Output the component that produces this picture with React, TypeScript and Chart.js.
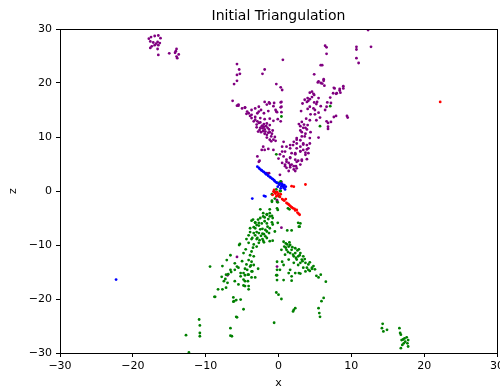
import React, { useEffect, useRef } from "react";
import { Chart, registerables } from "chart.js";

Chart.register(...registerables);

const titleText = "Initial Triangulation";
const xLabel = "x";
const zLabel = "z";
const xTicks = [-30, -20, -10, 0, 10, 20, 30];
const zTicks = [-30, -20, -10, 0, 10, 20, 30];

const purplePoints: number[][] = [
  [-17.5, 28.5], [-17.0, 28.7], [-16.5, 28.8], [-17.8, 28.2], [-16.2, 28.3], [-17.6, 27.7], [-17.2, 27.5], [-16.8, 27.3],
  [-16.6, 27.6], [-16.3, 27.4], [-17.4, 26.8], [-17.6, 26.5], [-17.0, 27.0], [-16.5, 27.0], [-16.6, 26.3], [-16.5, 25.2],
  [-15.0, 25.5], [-14.1, 25.9], [-14.0, 26.3], [-13.7, 25.3], [-14.0, 24.9], [-13.9, 24.6], [-14.2, 25.6],
  [-5.7, 23.5], [-5.4, 22.5], [-1.9, 22.5], [-2.2, 21.7], [0.6, 24.3], [5.8, 23.3], [6.0, 23.3], [6.4, 26.9], [6.6, 26.6],
  [6.6, 25.4], [10.7, 26.7], [10.7, 26.2], [10.7, 24.6], [11.0, 23.7], [12.3, 29.8], [12.7, 26.7],
  [-5.7, 21.5], [-5.3, 21.7], [-6.1, 19.8], [-5.7, 20.4], [-0.3, 19.8], [0.3, 19.2], [0.5, 18.7],
  [-6.3, 16.7], [-5.7, 15.8], [-5.5, 15.8], [-4.6, 15.4], [-5.0, 15.3], [-5.5, 16.0], [-4.6, 15.5], [-4.1, 14.4],
  [-3.7, 14.1], [-3.2, 13.2], [-2.7, 12.6], [-2.3, 12.0], [-1.9, 11.4], [-1.4, 10.8], [-1.0, 10.1], [-0.7, 9.5],
  [-1.2, 9.5], [-1.6, 10.4], [-2.1, 11.1], [-2.5, 11.7], [-3.0, 12.3], [-3.4, 12.9],
  [-1.3, 16.4], [-0.6, 16.3], [0.4, 16.5], [0.4, 15.6], [-0.3, 14.7], [0.3, 12.9], [-2.7, 14.7],
  [-4.3, 14.7], [-3.7, 15.0], [-3.2, 15.3], [-2.7, 15.6], [-2.4, 15.0], [-1.9, 16.5], [-1.6, 16.0], [-1.2, 16.2],
  [-0.7, 15.7], [-0.4, 15.0], [0.3, 16.4], [0.3, 15.5], [0.4, 14.6], [-0.2, 14.6], [-1.4, 14.8], [-2.0, 14.4],
  [-2.9, 14.4], [-3.9, 13.9], [-4.4, 14.3], [-3.7, 13.5], [-3.2, 13.7], [-2.5, 13.5], [-1.9, 13.3], [-1.2, 13.4],
  [-0.7, 13.0], [-0.1, 13.3], [-2.9, 12.9], [-2.5, 12.7], [-2.0, 12.4], [-1.6, 12.5], [-1.2, 12.2], [-2.2, 12.1],
  [-3.0, 11.8], [-2.6, 11.3], [-2.2, 11.6], [-1.8, 11.0], [-1.5, 11.7], [-2.4, 10.9], [-1.9, 10.6], [-1.2, 10.9],
  [-1.6, 9.9], [-0.9, 10.6], [-0.5, 10.0], [-1.0, 9.2], [-0.4, 9.3], [-2.8, 11.0], [-1.3, 11.4], [-2.0, 11.9],
  [-0.8, 11.2], [-1.7, 12.0],
  [4.9, 21.6], [6.2, 20.7], [5.4, 20.1], [5.8, 20.0], [6.3, 19.5], [7.7, 19.0], [8.9, 19.4], [8.4, 18.9], [7.5, 18.1],
  [8.0, 18.1], [8.5, 18.2], [7.1, 17.3], [6.7, 16.4], [7.2, 16.3], [5.5, 17.2], [4.3, 18.2], [4.9, 17.8], [4.6, 17.4],
  [4.0, 17.2], [3.6, 16.9], [3.3, 16.2], [4.1, 16.7], [4.9, 16.4], [5.3, 16.5], [4.3, 15.6], [4.8, 15.3], [4.0, 15.2],
  [5.8, 15.7], [6.6, 15.6], [6.4, 15.0], [5.5, 14.5], [5.0, 14.2], [4.4, 14.2], [3.1, 14.8], [7.9, 13.9], [9.4, 13.9],
  [3.8, 13.4], [4.3, 13.1], [5.2, 13.1], [5.7, 13.6], [6.6, 12.9], [6.8, 12.6], [3.2, 12.8], [2.8, 12.4], [3.5, 12.3],
  [4.0, 12.2], [3.0, 12.0], [3.7, 11.7],
  [7.6, 19.1], [8.4, 18.6], [8.9, 19.0], [7.9, 18.0], [6.2, 20.4], [5.5, 20.3], [6.0, 19.9], [3.9, 16.5], [4.6, 18.4],
  [4.8, 18.0], [4.3, 17.0], [5.2, 16.1], [5.0, 15.0], [7.6, 13.7], [7.2, 12.8], [6.8, 11.9], [9.5, 13.6],
  [3.6, 10.1], [4.3, 9.8], [3.2, 10.1], [2.5, 9.8], [5.5, 9.9], [4.4, 10.9], [3.2, 10.9], [3.9, 11.4], [3.4, 11.7],
  [6.8, 11.5], [3.0, 11.2], [3.7, 10.6],
  [-2.3, 7.6], [-1.9, 7.6], [-1.4, 7.8], [-0.7, 7.6], [-2.1, 8.2], [-2.9, 6.4], [-2.6, 5.6], [-2.7, 5.4], [0.5, 8.2],
  [0.5, 7.3], [0.9, 7.3], [1.6, 7.9], [2.0, 8.5], [2.5, 8.8], [3.0, 9.4], [3.4, 8.8], [3.9, 8.5], [3.0, 8.2], [2.5, 7.9],
  [1.8, 7.0], [2.3, 7.0], [3.0, 7.3], [3.4, 7.6], [4.1, 7.9], [4.3, 8.8], [1.6, 6.1], [1.1, 5.8], [0.7, 6.4], [0.5, 5.2],
  [0.9, 4.9], [1.4, 5.2], [1.8, 4.9], [2.3, 5.8], [2.7, 5.6], [3.2, 5.8], [3.0, 4.9], [2.4, 4.6], [1.6, 4.4], [2.1, 4.0],
  [2.5, 4.2], [1.1, 4.3], [3.7, 6.7], [4.1, 7.0],
  [0.7, 9.1], [1.1, 8.2], [1.6, 8.5], [2.1, 9.1], [2.5, 9.5], [3.4, 8.6], [3.9, 7.7], [3.7, 7.1], [3.0, 7.4], [2.3, 6.8],
  [1.6, 6.2], [1.1, 5.4], [1.6, 4.8], [2.1, 4.6], [2.5, 5.4], [3.2, 5.6], [3.9, 5.9], [0.9, 4.6], [1.4, 3.7], [2.3, 3.7],
  [0.2, 6.8], [0.0, 6.0], [-1.3, 3.3], [-1.6, 3.3],
  [0.4, 1.7], [0.7, 0.8], [0.2, 3.0], [-0.2, -1.7], [0.1, 1.2],
  [0.4, -6.8], [-5.7, -12.2], [-7.0, -15.6], [-0.2, -14.0],
];

const greenPoints: number[][] = [
  [7.1, 15.7], [5.7, 12.0], [0.4, 13.8], [-0.3, 6.8],
  [0.0, 1.5], [-0.5, -0.2], [0.3, 0.0], [-0.3, 0.3], [0.1, -1.0], [-0.2, -2.0], [-0.9, -1.8], [1.3, -3.2], [0.3, 1.8],
  [-0.9, -0.6], [-0.5, -1.4], [0.2, 0.0], [-0.9, -2.0], [-0.1, -2.1], [1.5, -3.4],
  [-0.2, -3.2], [-1.6, -4.4], [-2.1, -4.7], [-1.2, -4.7], [-0.8, -5.0], [-2.5, -5.0], [-3.7, -5.5], [-3.2, -5.9],
  [-2.7, -5.9], [-2.3, -6.0], [-1.6, -6.0], [-0.8, -6.2], [-0.1, -5.9], [2.7, -5.9], [2.8, -6.6], [-3.9, -6.9],
  [-3.2, -6.9], [-2.5, -7.1], [-1.8, -7.2], [-1.2, -6.9], [-3.4, -7.8], [-2.7, -7.8], [-2.0, -8.0], [-1.3, -7.8],
  [-0.5, -7.5], [-4.1, -8.2], [-3.6, -8.7], [-2.9, -8.7], [-2.2, -8.9], [-1.6, -8.7], [-2.7, -9.6], [-2.0, -9.5],
  [-3.4, -9.9], [-4.1, -9.6], [-1.2, -9.3], [-5.4, -10.0],
  [-2.5, -3.4], [-2.1, -4.1], [-1.6, -4.3], [-1.2, -4.1], [-1.9, -4.9], [-1.4, -5.2], [-0.9, -4.6], [-0.1, -3.5],
  [-0.9, -5.8], [-3.2, -5.8], [-3.5, -5.3], [-3.4, -6.7], [-2.7, -6.4], [-2.2, -7.0], [-3.0, -7.6], [-2.2, -7.9],
  [-1.6, -7.5], [-3.9, -7.6], [-4.4, -8.9], [-3.7, -8.9], [-3.0, -8.9], [-5.3, -9.8], [-2.1, -9.2], [-0.8, -9.2],
  [1.2, -7.3], [1.8, -7.3], [3.0, -6.0], [2.9, -6.6], [-1.2, -3.4],
  [-2.8, -5.3], [-1.9, -5.6], [-3.0, -6.3], [-1.5, -6.6], [-2.4, -8.3], [-3.2, -8.2], [-1.8, -8.4], [-2.6, -9.1],
  [-3.5, -10.5], [-4.5, -10.8], [-3.0, -10.3], [-4.8, -11.5], [-5.0, -13.0], [-4.4, -13.6], [-5.5, -14.2], [-6.5, -15.0],
  [-3.7, -11.2], [-3.9, -11.9], [-3.4, -12.1], [-4.1, -12.8], [-3.7, -13.1], [-3.4, -13.7], [-3.9, -14.0],
  [-4.3, -14.6], [-3.7, -14.9], [-4.8, -15.2], [-4.1, -15.5], [-5.2, -15.8], [-6.0, -13.4], [-6.6, -11.9],
  [-7.1, -12.8], [-7.3, -16.3], [-7.8, -15.9], [-7.5, -16.7], [-8.3, -18.2], [-7.7, -18.2], [-8.8, -19.6],
  [-6.0, -16.7], [-5.5, -17.3], [-4.8, -16.4], [-4.1, -18.2], [-4.8, -17.5], [-6.2, -19.7], [-5.8, -20.2],
  [-5.2, -20.1], [-6.2, -20.5], [-4.8, -21.9], [-5.8, -23.3], [-5.7, -23.4], [-6.6, -25.4], [-6.6, -26.8],
  [-6.4, -26.9], [-9.4, -14.0], [-7.7, -13.9], [-6.6, -14.6], [-10.9, -23.8], [-10.8, -24.9], [-10.8, -26.3],
  [-10.8, -26.9], [-12.7, -26.7], [-12.3, -29.9],
  [-8.7, -19.6], [-7.2, -17.9], [-7.0, -17.0], [-6.1, -20.4],
  [-6.0, -14.6], [-5.7, -14.0], [-7.2, -15.5], [-6.9, -15.4], [-5.2, -15.2], [-4.6, -15.6], [-4.2, -15.5],
  [-3.7, -16.0], [-3.2, -16.0], [-4.6, -16.7], [-4.2, -16.7], [-4.6, -17.6], [-4.1, -17.6], [-4.6, -14.4],
  [-3.6, -14.9], [-2.8, -14.4], [-3.8, -13.8],
  [-0.6, -24.4], [-0.3, -18.8], [0.0, -19.2], [0.4, -20.0], [-0.2, -13.1], [-0.2, -14.6], [-0.2, -15.6],
  [-0.2, -16.5], [0.5, -13.1], [2.3, -21.7], [2.1, -22.0], [2.0, -22.3], [5.5, -21.7], [5.6, -22.6], [5.7, -23.3],
  [5.9, -20.4], [6.2, -19.8], [6.5, -16.8],
  [0.7, -9.4], [1.0, -9.7], [0.8, -10.3], [1.4, -10.3], [1.1, -10.9], [1.8, -10.9], [1.6, -11.5], [2.3, -11.5],
  [2.1, -12.1], [2.7, -12.1], [2.5, -12.7], [3.2, -12.7], [3.0, -13.3], [3.7, -13.3], [4.1, -13.6], [3.9, -14.2],
  [4.6, -14.2], [5.0, -14.5], [4.3, -14.8], [3.4, -14.2], [2.7, -13.7], [2.1, -13.3], [1.4, -12.7], [0.9, -11.8],
  [0.4, -10.9], [1.6, -10.0], [2.3, -10.6], [3.0, -11.5], [3.4, -12.1], [0.7, -13.7], [1.6, -14.6], [1.8, -15.8],
  [2.3, -15.2], [3.0, -15.3], [3.7, -14.9], [5.2, -15.7], [5.8, -15.5],
  [0.7, -16.5], [1.4, -15.2], [1.8, -16.6], [2.8, -15.2], [4.1, -14.6], [4.6, -14.4], [5.5, -16.0], [-0.3, -15.6],
  [0.2, -14.6],
  [1.2, -9.9], [1.9, -10.4], [2.6, -11.0], [2.9, -11.9], [3.6, -12.6], [4.3, -13.2], [1.3, -11.3], [2.0, -11.8],
  [2.4, -12.4], [1.0, -10.5], [1.5, -9.5], [2.8, -10.8], [3.3, -13.0], [4.8, -13.9],
  [14.3, -24.6], [14.2, -25.4], [14.4, -26.0], [14.9, -25.7], [16.6, -25.4], [16.7, -26.3], [16.8, -26.6],
  [16.9, -27.6], [17.1, -27.5], [17.3, -27.3], [17.6, -27.1], [17.8, -27.6], [17.4, -27.9], [17.2, -28.2],
  [17.0, -28.5], [16.8, -29.1], [17.8, -28.8], [17.7, -28.2],
];

const bluePoints: number[][] = [
  [-2.9, 4.5], [-2.7, 4.3], [-2.6, 4.1], [-2.4, 3.9], [-2.3, 3.8], [-2.1, 3.6], [-2.0, 3.5], [-1.8, 3.3], [-1.7, 3.1],
  [-1.5, 3.0], [-1.4, 2.8], [-1.2, 2.6], [-1.1, 2.5], [-0.9, 2.3], [-0.8, 2.2], [-0.6, 2.0], [-0.5, 1.8], [-0.3, 1.6],
  [-0.2, 1.5], [0.1, 1.2], [0.4, 0.9], [0.7, 0.6], [0.9, 0.3], [0.6, 1.0], [0.3, 0.5], [-0.1, 0.8], [0.5, 1.3],
  [1.0, 0.8], [0.8, 1.1], [0.2, 1.4],
  [-3.6, -1.4], [-2.0, -0.9], [-1.8, -1.0], [-22.3, -16.4],
];

const redPoints: number[][] = [
  [-0.7, -0.1], [-0.4, -0.5], [-0.1, -0.8], [0.2, -1.1], [0.5, -1.5], [0.8, -1.8], [1.1, -2.2], [1.4, -2.5],
  [1.7, -2.9], [2.0, -3.2], [2.3, -3.6], [2.6, -4.0], [2.9, -4.4], [-0.5, -0.3], [0.0, -0.5], [-0.3, -1.0],
  [0.3, -0.6], [-0.8, -0.7], [1.0, -1.5], [2.2, -3.3], [2.5, -3.5], [-0.6, 0.2], [1.25, -2.35], [1.55, -2.7],
  [1.85, -3.05], [2.75, -4.2], [0.65, -1.65], [-0.2, -0.2],
  [1.8, 0.9], [2.1, 0.8], [3.7, 1.2], [22.2, 16.5],
];

const FONT = "'DejaVu Sans', sans-serif";

const toXY = (pts: number[][]) => pts.map(([x, z]) => ({ x, y: z }));
const fmt = (v: number) => (v < 0 ? "\u2212" + Math.abs(v) : String(v));

export default function App() {
  const ref = useRef<HTMLCanvasElement | null>(null);

  useEffect(() => {
    if (!ref.current) return;
    const decor = {
      id: "decor",
      afterDraw(chart: any) {
        const { ctx, chartArea } = chart;
        const { left, top, right, bottom } = chartArea;
        ctx.save();
        ctx.strokeStyle = "#000";
        ctx.lineWidth = 1;
        ctx.strokeRect(Math.round(left) + 0.5, Math.round(top) + 0.5, Math.round(right - left), Math.round(bottom - top));
        ctx.fillStyle = "#000";
        ctx.font = `14px ${FONT}`;
        ctx.textAlign = "center";
        ctx.textBaseline = "alphabetic";
        ctx.fillText(titleText, (left + right) / 2, 20);
        ctx.font = `11px ${FONT}`;
        ctx.fillText(xLabel, (left + right) / 2, 386);
        ctx.translate(16, (top + bottom) / 2);
        ctx.rotate(-Math.PI / 2);
        ctx.textBaseline = "alphabetic";
        ctx.fillText(zLabel, 0, 0);
        ctx.restore();
      },
    };

    const common = (ticks: number[]) => ({
      type: "linear" as const,
      min: -30,
      max: 30,
      afterBuildTicks: (s: any) => {
        s.ticks = ticks.map((v) => ({ value: v }));
      },
      ticks: {
        color: "#000",
        font: { family: FONT, size: 11 },
        callback: (v: any) => fmt(Number(v)),
      },
      grid: { display: true, drawOnChartArea: false, drawTicks: true, tickLength: 4, color: "#000", lineWidth: 1 },
      border: { display: true, color: "#000", width: 1 },
    });

    const xs: any = common(xTicks);
    xs.ticks.padding = 3;
    xs.afterFit = (s: any) => {
      s.height = 34;
      s.paddingLeft = 0;
      s.paddingRight = 0;
    };
    const ys: any = common(zTicks);
    ys.ticks.padding = 4;
    ys.afterFit = (s: any) => {
      s.width = 60;
      s.paddingTop = 0;
      s.paddingBottom = 0;
    };

    const mk = (label: string, pts: number[][], color: string, order: number) => ({
      label,
      data: toXY(pts),
      backgroundColor: color,
      borderColor: color,
      pointRadius: 1.4,
      pointBorderWidth: 0,
      pointHoverRadius: 1.4,
      order,
    });

    const chart = new Chart(ref.current, {
      type: "scatter",
      data: {
        datasets: [
          mk("purple", purplePoints, "#800080", 4),
          mk("green", greenPoints, "#008000", 3),
          mk("blue", bluePoints, "#0000ff", 2),
          mk("red", redPoints, "#ff0000", 1),
        ],
      },
      options: {
        animation: false,
        responsive: false,
        devicePixelRatio: 1,
        events: [],
        layout: { padding: { top: 29, right: 23, left: 0, bottom: 0 } },
        plugins: { legend: { display: false }, title: { display: false }, tooltip: { enabled: false } },
        scales: { x: xs, y: ys },
      },
      plugins: [decor],
    });
    return () => chart.destroy();
  }, []);

  return (
    <div style={{ position: "fixed", left: 0, top: 0, width: 500, height: 387, overflow: "hidden", background: "#fff" }}>
      <canvas ref={ref} width={520} height={387} style={{ display: "block" }} />
    </div>
  );
}
